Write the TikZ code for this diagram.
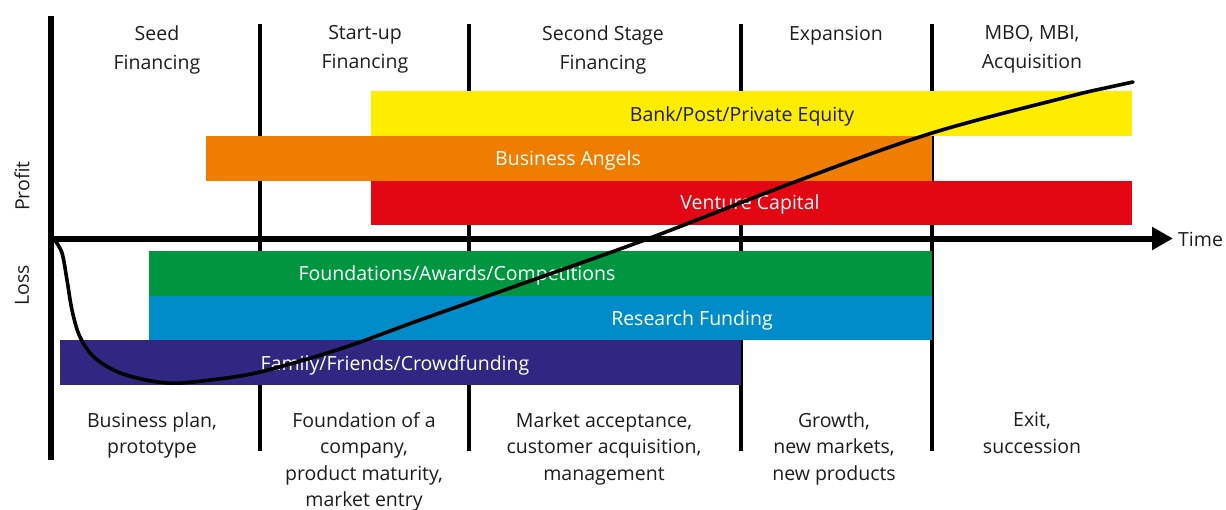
\documentclass[tikz,border=0pt]{standalone}
\usepackage{fontspec}
\setmainfont{Open Sans}
\usetikzlibrary{arrows.meta}
\definecolor{ink}{HTML}{1D1D1B}
\definecolor{cyellow}{HTML}{FFED00}
\definecolor{corange}{HTML}{EF7D00}
\definecolor{cred}{HTML}{E30613}
\definecolor{cgreen}{HTML}{009640}
\definecolor{cblue}{HTML}{008BC9}
\definecolor{cpurple}{HTML}{312783}
\tikzset{
  txt/.style={font=\fontsize{19.5}{26.5}\selectfont, text=ink, inner sep=0pt, align=center},
  head/.style={txt, font=\fontsize{19.5}{28.5}\selectfont, anchor=north},
  foot/.style={txt, anchor=north},
  barlabel/.style={font=\fontsize{19.5}{24}\selectfont, inner sep=0pt, text=white},
  axis/.style={line width=6pt, draw=black},
  divider/.style={line width=4pt, draw=black},
  curve/.style={line width=3.6pt, draw=black, line cap=round, line join=round},
}
\begin{document}
\begin{tikzpicture}[x=1pt,y=-1pt]
\useasboundingbox (0,0) rectangle (1226,509);

% phase dividers
\foreach \xx/\nm in {260/d1, 469/d2, 741/d3, 932/d4}{
  \coordinate (\nm top) at (\xx,24);
  \coordinate (\nm bot) at (\xx,451);
  \draw[divider] (\nm top) -- (\nm bot);
}

% financing bars
\fill[cyellow] (371,91) rectangle (1132,136);
\fill[corange] (206,136) rectangle (932,181);
\fill[cred]    (371,181) rectangle (1132,225);
\fill[cgreen]  (149,251) rectangle (932,296);
\fill[cblue]   (149,296) rectangle (932,340);
\fill[cpurple] (60,340)  rectangle (741,385);

\node[barlabel, text=ink] (bank) at (742,116.5) {Bank/Post/Private Equity};
\node[barlabel] (angels)   at (568,160.5) {Business Angels};
\node[barlabel] (vc)       at (750,204.5) {Venture Capital};
\node[barlabel] (found)    at (457,275.5) {Foundations/Awards/Competitions};
\node[barlabel] (research) at (692,320) {Research Funding};
\node[barlabel] (family)   at (395,365.5) {Family/Friends/Crowdfunding};

% axes
\coordinate (origin) at (48,238.5);
\coordinate (timeend) at (1173,238.5);
\coordinate (ytop) at (51,16);
\coordinate (ybot) at (51,460);
\draw[axis] (ytop) -- (ybot);
\draw[axis, -{Triangle[length=21pt,width=22pt]}] (origin) -- (timeend);
\node[txt, anchor=west] (time) at (1178,239.5) {Time};
\node[txt, rotate=90] (profit) at (22,186) {Profit};
\node[txt, rotate=90] (loss) at (22,285) {Loss};

% phase headings
\node[head] (h1) at (157,25.5) {Seed\\Financing};
\node[head] (h2) at (365,25.5) {Start-up\\Financing};
\node[head] (h3) at (603,25.5) {Second Stage\\Financing};
\node[head] (h4) at (836,25.5) {Expansion};
\node[head] (h5) at (1032,25.5) {MBO, MBI,\\Acquisition};

% phase milestones
\node[foot] (f1) at (152,412) {Business plan,\\prototype};
\node[foot] (f2) at (364,412) {Foundation of a\\company,\\product maturity,\\market entry};
\node[foot] (f3) at (604,412) {Market acceptance,\\customer acquisition,\\management};
\node[foot] (f4) at (834,412) {Growth,\\new markets,\\new products};
\node[foot] (f5) at (1032,412) {Exit,\\succession};

% profit curve
\draw[curve] plot[smooth, tension=0.55] coordinates {
  (54,239) (62,253) (67,280) (72,310) (80,337) (95,358) (123,374) (167,383)
  (210,380) (260,372) (340,349) (420,320) (530,281) (650,238) (800,180)
  (932,133) (1067,97) (1110,87) (1133,82)};
\end{tikzpicture}
\end{document}
